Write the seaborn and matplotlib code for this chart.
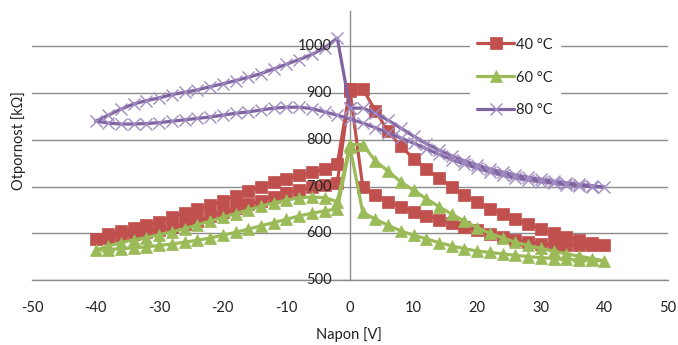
import matplotlib
matplotlib.use("Agg")
import matplotlib.pyplot as plt
import matplotlib.transforms as mtransforms
import numpy as np
import pandas as pd
import seaborn as sns

# ---------------- data (sweep order: 0 -> +40 -> 0 -> -40 -> 0) ----------------
v_right_out = [0, 2, 4, 6, 8, 10, 12, 14, 16, 18, 20, 22, 24, 26, 28, 30, 32, 34, 36, 38, 40]
v_right_back = [38, 36, 34, 32, 30, 28, 26, 24, 22, 20, 18, 16, 14, 12, 10, 8, 6, 4, 2, 0]
v_left_out = [-2, -4, -6, -8, -10, -12, -14, -16, -18, -20, -22, -24, -26, -28, -30, -32, -34, -36, -38, -40]
v_left_back = [-38, -36, -34, -32, -30, -28, -26, -24, -22, -20, -18, -16, -14, -12, -10, -8, -6, -4, -2, 0]

r40_right_out = [910, 910, 862, 818, 786, 760, 738, 718, 699, 682, 667, 653, 641, 630, 620, 610, 601, 593, 585, 579, 574]
r40_right_back = [574, 574, 575, 576, 578, 581, 586, 592, 599, 606, 613, 621, 629, 637, 646, 656, 668, 682, 700, 905]
r40_left_out = [708, 704, 699, 693, 686, 678, 670, 662, 654, 645, 636, 627, 619, 613, 608, 603, 599, 595, 591, 588]
r40_left_back = [598, 604, 611, 618, 625, 634, 643, 651, 660, 670, 680, 690, 700, 710, 717, 724, 731, 738, 748, 910]

r60_right_out = [790, 790, 755, 733, 710, 692, 674, 657, 641, 626, 612, 600, 590, 581, 574, 568, 562, 556, 551, 546, 541]
r60_right_back = [542, 543, 544, 546, 548, 550, 553, 556, 559, 562, 567, 573, 580, 588, 596, 605, 617, 630, 645, 785]
r60_left_out = [652, 648, 643, 637, 630, 623, 616, 609, 602, 596, 590, 585, 581, 577, 574, 571, 569, 567, 565, 564]
r60_left_back = [573, 580, 586, 591, 597, 603, 610, 618, 626, 634, 642, 650, 658, 665, 671, 676, 678, 676, 668, 790]

r80_right_out = [868, 868, 857, 842, 825, 808, 792, 778, 766, 755, 746, 738, 731, 725, 720, 716, 712, 708, 705, 702, 699]
r80_right_back = [700, 702, 704, 707, 710, 714, 718, 724, 731, 739, 748, 758, 769, 781, 793, 804, 815, 826, 836, 845]
r80_left_out = [853, 860, 867, 870, 870, 868, 864, 860, 857, 853, 849, 846, 843, 840, 837, 835, 834, 834, 836, 840]
r80_left_back = [853, 866, 877, 884, 890, 897, 902, 907, 914, 920, 927, 934, 942, 952, 962, 972, 983, 997, 1018, 868]

series_labels = ["40 °C", "60 °C", "80 °C"]
x_ticks = [-50, -40, -30, -20, -10, 0, 10, 20, 30, 40, 50]
y_ticks = [500, 600, 700, 800, 900, 1000]

# ---------------- styling ----------------
sns.set_style("white")
plt.rcParams["font.family"] = ["Lato", "DejaVu Sans"]

colors = ["#C0504D", "#9BBB59", "#8064A2"]
markers = ["s", "^", "x"]
msizes = [8.5, 8.5, 8]
edgecols = ["#C0504D", "#9BBB59", "#A08CC0"]
edgew = [0.5, 0.5, 1.0]
grid_col = "#8C8C8C"
txt_col = "#222222"

volts = v_right_out + v_right_back + v_left_out + v_left_back
series_vals = [
    r40_right_out + r40_right_back + r40_left_out + r40_left_back,
    r60_right_out + r60_right_back + r60_left_out + r60_left_back,
    r80_right_out + r80_right_back + r80_left_out + r80_left_back,
]

W, H = 678, 345
fig = plt.figure(figsize=(W / 100, H / 100), dpi=100)
ax = fig.add_axes([32 / W, 1 - 280 / H, (668 - 32) / W, (280 - 11) / H])

for lab, vals, c, m, ms, ec, ew in zip(series_labels, series_vals, colors, markers, msizes, edgecols, edgew):
    df = pd.DataFrame({"V": volts, "R": vals})
    sns.lineplot(data=df, x="V", y="R", sort=False, estimator=None, ax=ax,
                 color=c, lw=2.3, marker=m, markersize=ms,
                 markeredgecolor=ec, markerfacecolor=c, markeredgewidth=ew,
                 label=lab)

ax.set_xlim(-50, 50)
ax.set_ylim(500, 1076)
ax.set_xticks(x_ticks)
ax.set_yticks(y_ticks)
ax.set_xticklabels([str(t) for t in x_ticks])
ax.set_yticklabels([])
ax.set_xlabel("")
ax.set_ylabel("")

ax.yaxis.grid(True, color=grid_col, lw=1.0)
ax.xaxis.grid(False)
ax.set_axisbelow(True)

for s in ["top", "right"]:
    ax.spines[s].set_visible(False)
ax.spines["left"].set_position(("data", 0))
ax.spines["left"].set_color(grid_col)
ax.spines["bottom"].set_color(grid_col)
ax.spines["left"].set_linewidth(1.0)
ax.spines["bottom"].set_linewidth(1.0)
ax.spines["left"].set_zorder(0.5)

ax.tick_params(axis="x", direction="out", length=5, width=1, color=grid_col,
               pad=10, labelsize=10.5, labelcolor=txt_col)
ax.tick_params(axis="y", length=0)

# y tick labels drawn on top of the data, beside the axis at x = 0
off = mtransforms.offset_copy(ax.transData, fig=fig, x=-13, y=0, units="points")
for t in y_ticks:
    ax.text(0, t, str(t), transform=off, ha="right", va="center", fontsize=10.5,
            color=txt_col, zorder=10, clip_on=False)

fig.text(349 / W, 1 - 335 / H, "Napon [V]", ha="center", va="center", fontsize=10.5, color=txt_col)
fig.text(19 / W, 1 - 141 / H, "Otpornost [kΩ]", ha="center", va="center", rotation=90,
         fontsize=10.5, color=txt_col)

leg = ax.legend(loc="center", bbox_to_anchor=(515 / W, 1 - 77.5 / H), bbox_transform=fig.transFigure,
                frameon=True, fontsize=10.5, handlelength=2.5, handletextpad=0.15,
                labelspacing=1.3, borderpad=0.5, fancybox=False, numpoints=1)
leg.get_frame().set_facecolor("white")
leg.get_frame().set_edgecolor("white")
leg.get_frame().set_alpha(1)
for t in leg.get_texts():
    t.set_color(txt_col)

fig.savefig("out.png", dpi=100)
